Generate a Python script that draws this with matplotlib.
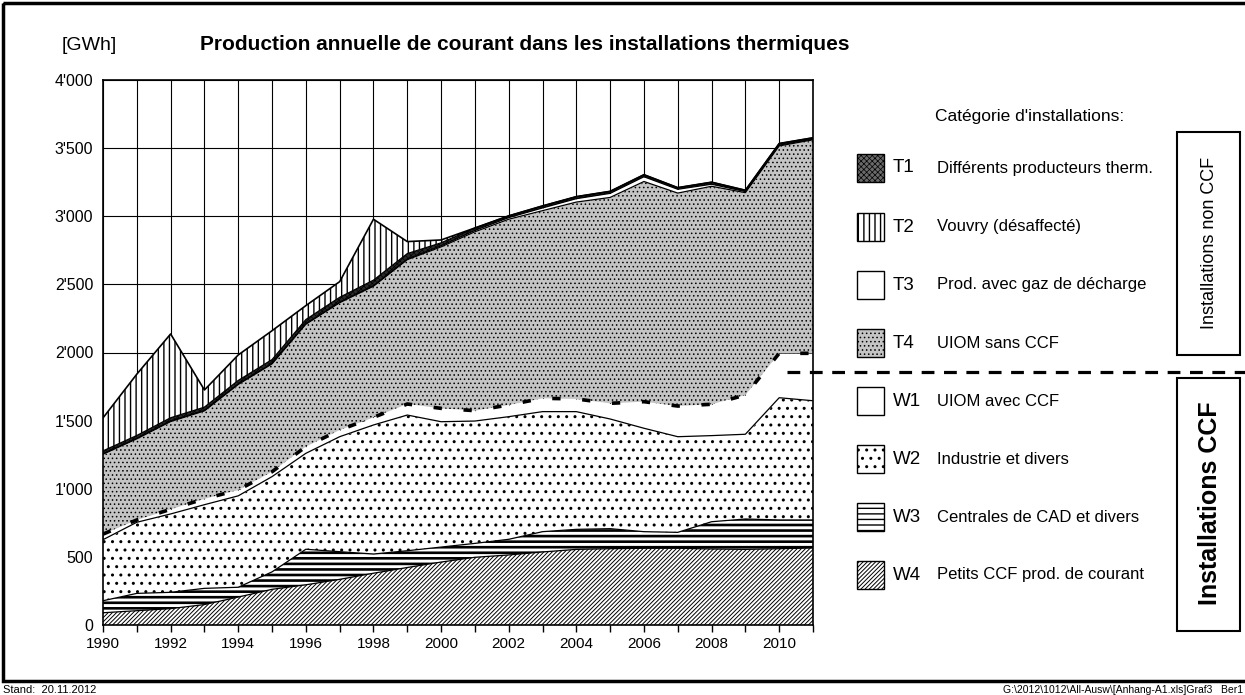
import numpy as np
import matplotlib
matplotlib.use("Agg")
import matplotlib.pyplot as plt
from matplotlib.patches import Rectangle
from matplotlib.ticker import FuncFormatter

plt.rcParams['font.family'] = ['Liberation Sans', 'DejaVu Sans']
plt.rcParams['hatch.color'] = 'black'

# production per category [GWh], 1990-2011
years = np.arange(1990, 2012)
w4 = [90, 105, 120, 150, 205, 262, 295, 335, 380, 422, 462, 497, 514, 536, 555, 560, 563, 563, 558, 555, 560, 565]
w3 = [88, 127, 120, 119, 72, 128, 261, 203, 141, 123, 110, 102, 115, 149, 147, 147, 122, 117, 200, 223, 211, 206]
w2 = [448, 522, 575, 614, 671, 699, 704, 844, 947, 996, 920, 898, 900, 881, 864, 805, 759, 702, 632, 622, 897, 875]
w1 = [41, 17, 34, 43, 43, 36, 49, 49, 56, 81, 98, 76, 86, 98, 93, 115, 195, 225, 230, 288, 326, 348]
t4 = [586, 595, 644, 645, 774, 791, 898, 934, 962, 1059, 1185, 1313, 1363, 1377, 1445, 1511, 1616, 1563, 1600, 1485, 1522, 1567]
t3 = [5, 5, 5, 5, 5, 5, 5, 5, 5, 5, 8, 10, 12, 20, 25, 30, 35, 28, 15, 8, 6, 5]
t1 = [20, 20, 23, 23, 25, 27, 30, 35, 40, 40, 22, 18, 13, 15, 15, 15, 15, 12, 15, 10, 12, 10]
t2 = [242, 450, 615, 126, 187, 212, 102, 115, 447, 88, 21, 0, 0, 0, 0, 0, 0, 0, 0, 0, 0, 0]

codes = ["T1", "T2", "T3", "T4", "W1", "W2", "W3", "W4"]
names = ["Différents producteurs therm.", "Vouvry (désaffecté)",
         "Prod. avec gaz de décharge", "UIOM sans CCF", "UIOM avec CCF",
         "Industrie et divers", "Centrales de CAD et divers",
         "Petits CCF prod. de courant"]

# stacking order bottom -> top
stack = [("W4", w4), ("W3", w3), ("W2", w2), ("W1", w1),
         ("T4", t4), ("T3", t3), ("T1", t1), ("T2", t2)]

# (facecolor, hatch, hatch linewidth)
look = {
    "W4": ("white", "////////", 0.7),
    "W3": ("white", "---", 1.9),
    "W2": ("white", "..", 1.0),
    "W1": ("white", None, 1.0),
    "T4": ("#c4c4c4", "....", 0.6),
    "T3": ("white", None, 1.0),
    "T1": ("#2a2a2a", "xxxxxx", 0.5),
    "T2": ("white", "|||", 1.0),
}


def hatched(artist, hlw):
    if hasattr(artist, "set_hatch_linewidth"):
        artist.set_hatch_linewidth(hlw)


fig = plt.figure(figsize=(12.45, 6.95), dpi=100)
W, H = 1245, 695
ax = fig.add_axes([103 / W, 1 - 625 / H, 710 / W, 545 / H])

base = np.zeros(len(years))
for key, vals in stack:
    fc, hatch, hlw = look[key]
    top = base + np.array(vals, dtype=float)
    with plt.rc_context({'hatch.linewidth': hlw}):
        coll = ax.fill_between(years, base, top, facecolor=fc, hatch=hatch,
                               edgecolor='black', linewidth=0, zorder=2)
    hatched(coll, hlw)
    if key == "W1":
        ax.plot(years, top, color='black', lw=2.6,
                linestyle=(0, (2.3, 6.0)), zorder=4)
    elif key == "T2":
        ax.plot(years, top, color='black', lw=1.2, zorder=4)
    else:
        ax.plot(years, top, color='black', lw=0.9, zorder=3)
    base = top

ax.set_xlim(1990, 2011)
ax.set_ylim(0, 4000)
ax.set_axisbelow(True)
ax.grid(True, color='black', lw=0.8)
ax.set_xticks(years)
ax.set_xticklabels([str(y) if y % 2 == 0 and y < 2011 else "" for y in years],
                   fontsize=11)
ax.set_yticks(np.arange(0, 4001, 500))
ax.yaxis.set_major_formatter(FuncFormatter(lambda v, p: f"{int(v):,}".replace(",", "'")))
ax.tick_params(axis='x', direction='out', length=5, width=1, pad=4)
ax.tick_params(axis='y', length=0, pad=7, labelsize=11.5)
for s in ax.spines.values():
    s.set_linewidth(1.2)

# overlay in pixel coordinates for texts, legend and frames
ov = fig.add_axes([0, 0, 1, 1], zorder=5)
ov.set_xlim(0, W)
ov.set_ylim(H, 0)
ov.axis('off')

ov.add_patch(Rectangle((3, 3), 1260, 678, fill=False, lw=2.5, edgecolor='black'))
ov.text(62, 45, "[GWh]", fontsize=14, ha='left', va='center')
ov.text(200, 45, "Production annuelle de courant dans les installations thermiques",
        fontsize=15, fontweight='bold', ha='left', va='center')
ov.text(935, 117, "Catégorie d'installations:", fontsize=12.5, ha='left', va='center')

leg_look = dict(look)
leg_look["T1"] = ("#6a6a6a", "xxxxxx", 0.5)
leg_y = [168, 227, 285, 343, 401, 459, 517, 575]
for code, name, yc in zip(codes, names, leg_y):
    fc, hatch, hlw = leg_look[code]
    with plt.rc_context({'hatch.linewidth': min(hlw, 1.0)}):
        r = Rectangle((857, yc - 14), 27, 28, facecolor=fc, hatch=hatch,
                      edgecolor='black', lw=1)
    hatched(r, min(hlw, 1.0))
    ov.add_patch(r)
    ov.text(893, yc, code, fontsize=13.5, ha='left', va='center')
    ov.text(937, yc, name, fontsize=12, ha='left', va='center')

ov.add_patch(Rectangle((1177, 132), 63, 223, fill=False, lw=1.5, edgecolor='black'))
ov.add_patch(Rectangle((1177, 378), 63, 253, fill=False, lw=1.5, edgecolor='black'))
ov.text(1210, 243, "Installations non CCF", fontsize=13, rotation=90,
        ha='center', va='center')
ov.text(1210, 503, "Installations CCF", fontsize=18, fontweight='bold',
        rotation=90, ha='center', va='center')
ov.plot([787, 1250], [372, 372], color='black', lw=2.3, linestyle=(0, (4, 3)))

ov.text(3, 690, "Stand:  20.11.2012", fontsize=8, ha='left', va='center')
ov.text(1243, 690, "G:\\2012\\1012\\All-Ausw\\[Anhang-A1.xls]Graf3   Ber1",
        fontsize=7.5, ha='right', va='center')

fig.savefig("out.png", dpi=100)
